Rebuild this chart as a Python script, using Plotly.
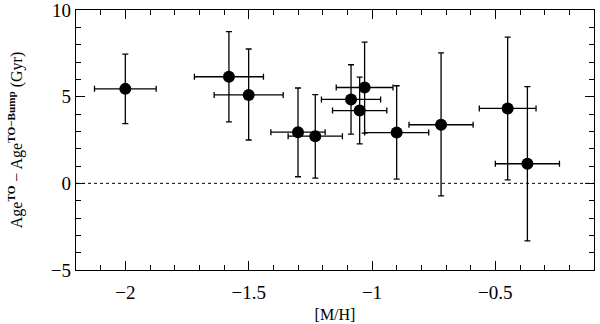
import plotly.graph_objects as go

# [M/H] and age difference (Gyr) with errors
mh = [-2.00, -1.58, -1.50, -1.30, -1.23, -1.085, -1.05, -1.03, -0.90, -0.72, -0.45, -0.37]
dage = [5.45, 6.15, 5.10, 2.95, 2.72, 4.84, 4.20, 5.53, 2.93, 3.38, 4.32, 1.13]
mh_err = [0.125, 0.14, 0.14, 0.11, 0.11, 0.12, 0.11, 0.115, 0.13, 0.13, 0.115, 0.13]
dage_up = [2.0, 2.6, 2.65, 2.55, 2.4, 2.0, 1.93, 2.62, 2.7, 4.15, 4.12, 4.45]
dage_dn = [2.0, 2.6, 2.6, 2.57, 2.42, 2.0, 1.92, 2.63, 2.69, 4.1, 4.12, 4.45]

xticks = [-2, -1.5, -1, -0.5]
yticks = [-5, 0, 5, 10]

serif = "Liberation Serif, DejaVu Serif, serif"

fig = go.Figure()

# dotted zero line
fig.add_trace(go.Scatter(
    x=[-2.2, -0.1], y=[0, 0], mode="lines",
    line=dict(color="black", width=1, dash="dot"),
    hoverinfo="skip", showlegend=False,
))

fig.add_trace(go.Scatter(
    x=mh, y=dage, mode="markers",
    marker=dict(color="black", size=12),
    error_x=dict(type="data", array=mh_err, color="black", thickness=1.3, width=3),
    error_y=dict(type="data", array=dage_up, arrayminus=dage_dn, symmetric=False,
                 color="black", thickness=1.3, width=3),
    showlegend=False,
))

axis_common = dict(
    showline=True, linecolor="black", linewidth=1.3, mirror="ticks",
    ticks="inside", ticklen=9, tickwidth=1.2, tickcolor="black",
    showgrid=False, zeroline=False, automargin=False,
    ticklabeloverflow="allow",
    tickfont=dict(family=serif, size=19, color="black"),
)

fig.update_layout(
    width=600, height=324,
    margin=dict(l=76, r=6, t=10, b=54),
    paper_bgcolor="white", plot_bgcolor="white",
    xaxis=dict(
        range=[-2.2, -0.1], tickvals=xticks, ticktext=["\u22122", "\u22121.5", "\u22121", "\u22120.5"],
        minor=dict(dtick=0.1, ticks="inside", ticklen=5, tickwidth=1, tickcolor="black"),
        title=dict(text="[M/H]", font=dict(family=serif, size=16, color="black"), standoff=6),
        ticklabelstandoff=5,
        **axis_common,
    ),
    yaxis=dict(
        range=[-5, 10], tickvals=yticks, ticktext=["\u22125", "0", "5", "10"],
        minor=dict(dtick=1, ticks="inside", ticklen=5, tickwidth=1, tickcolor="black"),
        title=dict(
            text="Age<sup><b>TO</b></sup> \u2212 Age<sup><b>TO\u2212Bump</b></sup> (Gyr)",
            font=dict(family=serif, size=16, color="black"), standoff=24,
        ),
        ticksuffix=" ",
        **axis_common,
    ),
)

# drop the page's default body margin so the figure sits at the window corner
fig.write_html("out.html", config={"displayModeBar": False},
               post_script="document.body.style.margin='0';")
